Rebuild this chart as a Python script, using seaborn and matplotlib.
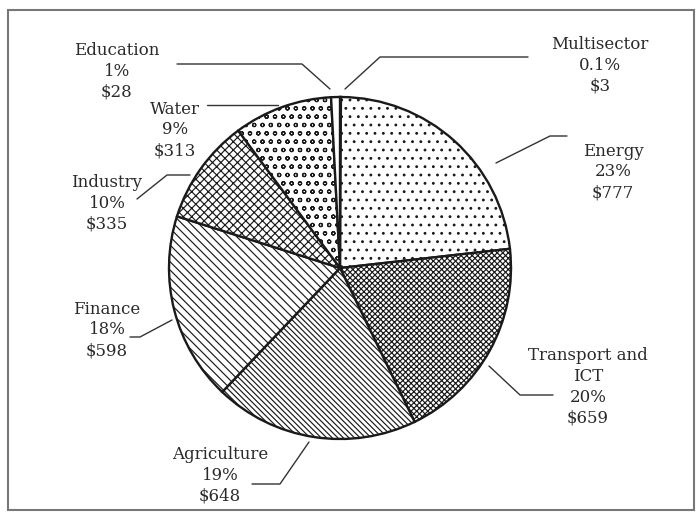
import matplotlib
matplotlib.use("Agg")
import matplotlib.pyplot as plt
import matplotlib.patches as mpatches
import seaborn as sns

# sectors, clockwise from 12 o'clock
sectors = ["Multisector", "Energy", "Transport and\nICT", "Agriculture",
           "Finance", "Industry", "Water", "Education"]
amounts = [3, 777, 659, 648, 598, 335, 313, 28]
pct_labels = ["0.1%", "23%", "20%", "19%", "18%", "10%", "9%", "1%"]
hatches = ["", "..", "xxxxxx", "\\\\\\\\\\\\", "\\\\\\\\", "xxxx", "oo", ""]

sns.set_theme(style="white")
plt.rcParams["font.family"] = ["DejaVu Serif"]
plt.rcParams["hatch.linewidth"] = 0.85

W, H = 696, 513
fig = plt.figure(figsize=(W / 100, H / 100), dpi=100)
ax = fig.add_axes([0, 0, 1, 1])

cx, cy, r = 340, 268, 171
wedges, _ = ax.pie(amounts, center=(cx, cy), radius=r, startangle=-90,
                   counterclock=True, colors=["white"] * len(amounts),
                   wedgeprops=dict(edgecolor="#1a1a1a", linewidth=1.7))
for w, h in zip(wedges, hatches):
    w.set_hatch(h)

ax.set_xlim(0, W)
ax.set_ylim(H, 0)
ax.set_aspect("equal")
ax.axis("off")

# label block centres and leader lines (pixel layout)
label_pos = [(600, 65), (613, 172), (588, 387), (220, 475),
             (107, 330), (107, 203), (175, 130), (117, 71)]
leaders = [
    [(345, 89), (380, 57), (528, 57)],
    [(496, 163), (550, 136), (567, 136)],
    [(489, 366), (520, 395), (553, 395)],
    [(309, 442), (280, 484), (252, 484)],
    [(172, 320), (140, 337), (130, 337)],
    [(190, 175), (167, 175), (137, 199)],
    [(278, 105), (207, 105)],
    [(330, 89), (302, 64), (177, 64)],
]

for name, amt, pct, (tx, ty), pts in zip(sectors, amounts, pct_labels,
                                         label_pos, leaders):
    ax.text(tx, ty, f"{name}\n{pct}\n${amt}", ha="center", va="center",
            fontsize=12, color="#2a2a2a", linespacing=1.3)
    xs, ys = zip(*pts)
    ax.plot(xs, ys, color="#333333", lw=1.0)

ax.add_patch(mpatches.Rectangle((8, 10), 686, 500, fill=False,
                                edgecolor="#777777", lw=1.5, clip_on=False))

fig.savefig("out.png", dpi=100)
